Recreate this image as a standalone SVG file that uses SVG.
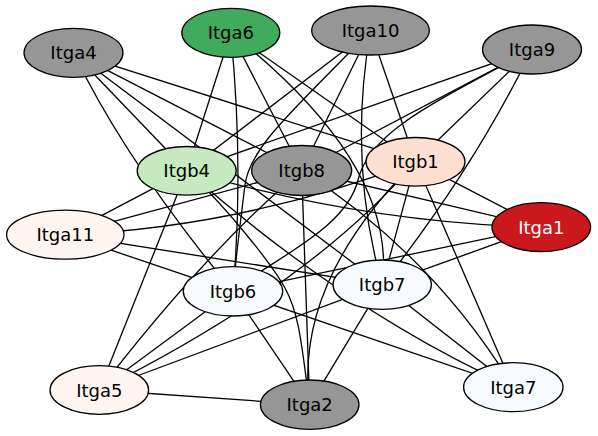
<svg xmlns="http://www.w3.org/2000/svg" width="598" height="436" viewBox="0 0 598 436">
<style>
.e{fill:none;stroke:#000;stroke-width:1.3}
.n ellipse{stroke:#000;stroke-width:1.3}
.n text{font-family:"DejaVu Sans",Verdana,sans-serif;font-size:18px;text-anchor:middle;fill:#000}
.g{fill:#969696}
</style>
<rect width="598" height="436" fill="#fff"/>
<g id="edges">
<path class="e" d="M73.5,52.8L186.7,170.8"/>
<path class="e" d="M73.5,52.8L301.7,170.5"/>
<path class="e" d="M73.5,52.8L415.5,161.8"/>
<path class="e" d="M73.5,52.8L382.2,284.7"/>
<path class="e" d="M73.5,52.8Q126,162 233,291.3"/>
<path class="e" d="M230.8,32.8L186.7,170.8"/>
<path class="e" d="M230.8,32.8L301.7,170.5"/>
<path class="e" d="M230.8,32.8L415.5,161.8"/>
<path class="e" d="M230.8,32.8Q244,168 233,291.3"/>
<path class="e" d="M230.8,32.8Q398,165 382.2,284.7"/>
<path class="e" d="M370.5,30.5L186.7,170.8"/>
<path class="e" d="M370.5,30.5L301.7,170.5"/>
<path class="e" d="M370.5,30.5L415.5,161.8"/>
<path class="e" d="M370.5,30.5Q347.6,162.4 382.2,284.7"/>
<path class="e" d="M370.5,30.5C300,105 250,145 245,185S235,265 233,291.3"/>
<path class="e" d="M532,49.5L186.7,170.8"/>
<path class="e" d="M532,49.5L301.7,170.5"/>
<path class="e" d="M532,49.5L415.5,161.8"/>
<path class="e" d="M532,49.5Q473,170 382.2,284.7"/>
<path class="e" d="M532,49.5C440,100 370,130 358,180S270,260 233,291.3"/>
<path class="e" d="M541.3,227.2L415.5,161.8"/>
<path class="e" d="M541.3,227.2L301.7,170.5"/>
<path class="e" d="M541.3,227.2Q364,223 186.7,170.8"/>
<path class="e" d="M541.3,227.2L382.2,284.7"/>
<path class="e" d="M541.3,227.2L233,291.3"/>
<path class="e" d="M65.3,234.7L186.7,170.8"/>
<path class="e" d="M65.3,234.7L301.7,170.5"/>
<path class="e" d="M65.3,234.7Q240.4,228 415.5,161.8"/>
<path class="e" d="M65.3,234.7L233,291.3"/>
<path class="e" d="M65.3,234.7L382.2,284.7"/>
<path class="e" d="M99.3,390L186.7,170.8"/>
<path class="e" d="M99.3,390Q207.1,250 301.7,170.5"/>
<path class="e" d="M99.3,390Q310,285 415.5,161.8"/>
<path class="e" d="M99.3,390L233,291.3"/>
<path class="e" d="M99.3,390L382.2,284.7"/>
<path class="e" d="M99.3,390L309.7,404.7"/>
<path class="e" d="M309.7,404.7C302,350 300,315 285,288S220,200 186.7,170.8"/>
<path class="e" d="M309.7,404.7L301.7,170.5"/>
<path class="e" d="M309.7,404.7Q293.4,282.75 415.5,161.8"/>
<path class="e" d="M309.7,404.7L233,291.3"/>
<path class="e" d="M309.7,404.7L382.2,284.7"/>
<path class="e" d="M513.3,387.2Q350,314 186.7,170.8"/>
<path class="e" d="M513.3,387.2Q433,255 301.7,170.5"/>
<path class="e" d="M513.3,387.2L415.5,161.8"/>
<path class="e" d="M513.3,387.2L233,291.3"/>
<path class="e" d="M513.3,387.2L382.2,284.7"/>
<path class="e" d="M415.5,161.8L382.2,284.7"/>
</g>
<g id="Itga4" class="n"><ellipse class="g" cx="73.5" cy="52.8" rx="49.5" ry="24.5"/><text x="73.5" y="59.3">Itga4</text></g>
<g id="Itga6" class="n"><ellipse fill="#41ab5d" cx="230.8" cy="32.8" rx="49" ry="24.5"/><text x="230.8" y="39.3">Itga6</text></g>
<g id="Itga10" class="n"><ellipse class="g" cx="370.5" cy="30.5" rx="58.8" ry="24.5"/><text x="370.5" y="37">Itga10</text></g>
<g id="Itga9" class="n"><ellipse class="g" cx="532" cy="49.5" rx="49.5" ry="24.5"/><text x="532" y="56">Itga9</text></g>
<g id="Itgb4" class="n"><ellipse fill="#c7e9c0" cx="186.7" cy="170.8" rx="49.5" ry="24.3"/><text x="186.7" y="177.3">Itgb4</text></g>
<g id="Itgb8" class="n"><ellipse class="g" cx="301.7" cy="170.5" rx="50" ry="25"/><text x="301.7" y="177">Itgb8</text></g>
<g id="Itgb1" class="n"><ellipse fill="#fee0d2" cx="415.5" cy="161.8" rx="49.5" ry="24.3"/><text x="415.5" y="168.3">Itgb1</text></g>
<g id="Itga1" class="n"><ellipse fill="#cb181d" cx="541.3" cy="227.2" rx="49.3" ry="24.5"/><text x="541.3" y="233.7" style="fill:#fff">Itga1</text></g>
<g id="Itga11" class="n"><ellipse fill="#fff5f0" cx="65.3" cy="234.7" rx="58.7" ry="24.5"/><text x="65.3" y="241.2">Itga11</text></g>
<g id="Itgb6" class="n"><ellipse fill="#f7fbff" cx="233" cy="291.3" rx="49.7" ry="24.7"/><text x="233" y="297.8">Itgb6</text></g>
<g id="Itgb7" class="n"><ellipse fill="#f7fbff" cx="382.2" cy="284.7" rx="49.2" ry="24.7"/><text x="382.2" y="291.2">Itgb7</text></g>
<g id="Itga5" class="n"><ellipse fill="#fff5f0" cx="99.3" cy="390" rx="49.3" ry="24.3"/><text x="99.3" y="396.5">Itga5</text></g>
<g id="Itga2" class="n"><ellipse class="g" cx="309.7" cy="404.7" rx="49.3" ry="24.7"/><text x="309.7" y="411.2">Itga2</text></g>
<g id="Itga7" class="n"><ellipse fill="#f7fbff" cx="513.3" cy="387.2" rx="49.7" ry="24.5"/><text x="513.3" y="393.7">Itga7</text></g>
</svg>
